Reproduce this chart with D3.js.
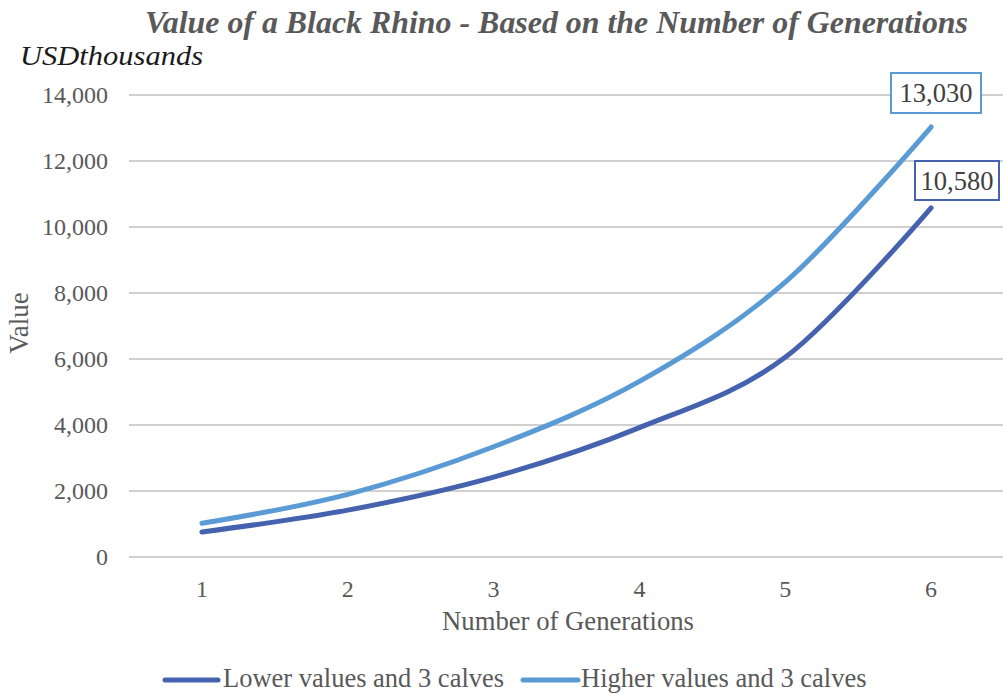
<!DOCTYPE html>
<html>
<head>
<meta charset="utf-8">
<script src="https://cdn.jsdelivr.net/npm/d3@7"></script>
<style>
  html, body { margin: 0; padding: 0; background: #fff; }
  svg { display: block; }
  svg text { font-family: "Liberation Serif", "Times New Roman", Times, "DejaVu Serif", serif; }
</style>
</head>
<body>
<svg id="chart" width="1003" height="694"></svg>
<script>
// Chart data
const generations = ["1", "2", "3", "4", "5", "6"];
const lowerValues = [760, 1420, 2420, 3920, 6050, 10580];
const higherValues = [1020, 1900, 3340, 5320, 8330, 13030];
const seriesNames = ["Lower values and 3 calves", "Higher values and 3 calves"];
const yTicks = [0, 2000, 4000, 6000, 8000, 10000, 12000, 14000];

const colors = ["#4462AE", "#5B9BD5"];
const W = 1003, H = 694;
const svg = d3.select("#chart");

const x = d3.scaleBand().domain(generations).range([129, 1004]);
const y = d3.scaleLinear().domain([0, 14000]).range([557, 95]);
const fmt = d3.format(",");

// Title and unit caption
svg.append("text")
  .attr("x", 145).attr("y", 33)
  .attr("textLength", 823).attr("lengthAdjust", "spacingAndGlyphs")
  .attr("font-size", 32).attr("font-weight", "bold").attr("font-style", "italic")
  .attr("fill", "#595959")
  .text("Value of a Black Rhino - Based on the Number of Generations");

svg.append("text")
  .attr("x", 20).attr("y", 65)
  .attr("textLength", 183).attr("lengthAdjust", "spacingAndGlyphs")
  .attr("font-size", 28).attr("font-style", "italic")
  .attr("fill", "#1a1a1a")
  .text("USDthousands");

// Gridlines and y labels
svg.append("g").selectAll("line").data(yTicks).join("line")
  .attr("x1", 129).attr("x2", W)
  .attr("y1", d => y(d)).attr("y2", d => y(d))
  .attr("stroke", "#d0d0d0").attr("stroke-width", 2);

const yAxis = d3.axisLeft(y).tickValues(yTicks).tickFormat(fmt).tickSize(0).tickPadding(0);
const gy = svg.append("g").attr("transform", "translate(108,0)").call(yAxis)
  .attr("font-family", null).attr("font-size", null);
gy.select(".domain").remove();
gy.selectAll("text")
  .attr("font-size", 24).attr("fill", "#595959").attr("dy", "0.33em");

// X axis labels
const xAxis = d3.axisBottom(x).tickSize(0).tickPadding(0);
const gx = svg.append("g").attr("transform", "translate(0,597)").call(xAxis)
  .attr("font-family", null).attr("font-size", null);
gx.select(".domain").remove();
gx.selectAll("text")
  .attr("font-size", 24).attr("fill", "#595959").attr("dy", "0").attr("y", 0);

svg.append("text")
  .attr("x", 568).attr("y", 630)
  .attr("text-anchor", "middle")
  .attr("font-size", 26.7).attr("fill", "#595959")
  .text("Number of Generations");

svg.append("text")
  .attr("transform", "translate(28,323) rotate(-90)")
  .attr("text-anchor", "middle")
  .attr("font-size", 27).attr("fill", "#595959")
  .text("Value");

// Smoothed series lines
const line = d3.line()
  .x((d, i) => x(generations[i]) + x.bandwidth() / 2)
  .y(d => y(d))
  .curve(d3.curveCatmullRom.alpha(0));

[lowerValues, higherValues].forEach((vals, k) => {
  svg.append("path")
    .datum(vals)
    .attr("d", line)
    .attr("fill", "none")
    .attr("stroke", colors[k])
    .attr("stroke-width", 5)
    .attr("stroke-linecap", "round");
});

// End-point value labels
const endLabels = [
  { vals: higherValues, color: colors[1], bx: 891, by: 73, bw: 90, bh: 40 },
  { vals: lowerValues, color: colors[0], bx: 915, by: 161, bw: 84, bh: 39 }
];
endLabels.forEach(l => {
  const v = l.vals[l.vals.length - 1];
  svg.append("rect")
    .attr("x", l.bx).attr("y", l.by).attr("width", l.bw).attr("height", l.bh)
    .attr("fill", "#fff").attr("stroke", l.color).attr("stroke-width", 2);
  svg.append("text")
    .attr("x", l.bx + l.bw / 2).attr("y", l.by + l.bh / 2 + 9)
    .attr("text-anchor", "middle")
    .attr("font-size", 26.5).attr("fill", "#404040")
    .text(fmt(v));
});

// Legend
const legend = [
  { x1: 165, x2: 218, tx: 223 },
  { x1: 523, x2: 578, tx: 581 }
];
legend.forEach((l, k) => {
  svg.append("line")
    .attr("x1", l.x1).attr("x2", l.x2).attr("y1", 680).attr("y2", 680)
    .attr("stroke", colors[k]).attr("stroke-width", 5).attr("stroke-linecap", "round");
  svg.append("text")
    .attr("x", l.tx).attr("y", 687)
    .attr("font-size", 26.5).attr("fill", "#595959")
    .text(seriesNames[k]);
});
</script>
</body>
</html>
